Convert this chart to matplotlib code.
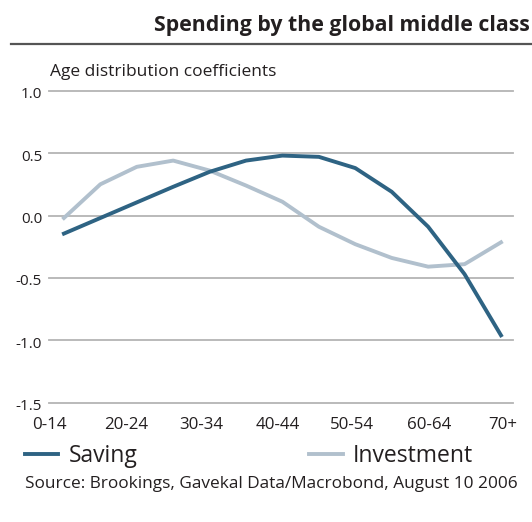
import matplotlib
matplotlib.use("Agg")
import matplotlib.pyplot as plt
from matplotlib.lines import Line2D
from matplotlib.transforms import ScaledTranslation

plt.rcParams['font.family'] = ['Open Sans', 'DejaVu Sans']

categories = ["0-14", "15-19", "20-24", "25-29", "30-34", "35-39", "40-44",
              "45-49", "50-54", "55-59", "60-64", "65-69", "70+"]
saving = [-0.145, -0.02, 0.105, 0.23, 0.35, 0.44, 0.48, 0.47, 0.38, 0.19, -0.09, -0.47, -0.96]
investment = [-0.02, 0.25, 0.39, 0.44, 0.36, 0.24, 0.11, -0.09, -0.23, -0.34, -0.41, -0.39, -0.215]
yticks = [1.0, 0.5, 0.0, -0.5, -1.0, -1.5]
ytick_labels = ["1.0", "0.5", "0.0", "-0.5", "-1.0", "-1.5"]

W, H = 532, 522
fig = plt.figure(figsize=(W / 100, H / 100), dpi=100)
ax = fig.add_axes([49 / W, 1 - 402.7 / H, (513 - 49) / W, (402.7 - 90.7) / H])

x = list(range(len(categories)))
c_sav = "#2e6383"
c_inv = "#b1c0cd"
txt = "#231f20"
ax.set_xlim(-0.41, 12.33)
ax.set_ylim(-1.5, 1.0)
for y in yticks:
    ax.axhline(y, color="#b4b4b4", lw=1.3, clip_on=False, zorder=1)
l_inv, = ax.plot(x, investment, color=c_inv, lw=2.8, zorder=3, solid_joinstyle="round")
l_sav, = ax.plot(x, saving, color=c_sav, lw=2.8, zorder=4, solid_joinstyle="round")

for s in ax.spines.values():
    s.set_visible(False)
ax.set_yticks(yticks)
ax.set_yticklabels(ytick_labels, fontsize=11, color=txt)
ax.tick_params(axis="y", length=0, pad=5)
for lab in ax.get_yticklabels():
    lab.set_transform(lab.get_transform() + ScaledTranslation(0, -2 / 100, fig.dpi_scale_trans))
ax.set_xticks(x[::2])
ax.set_xticklabels(categories[::2], fontsize=12.2, color=txt)
ax.tick_params(axis="x", length=0, pad=10)
offsets = [-14, -11, -8, -5, -3, 1, 2]
for lab, off in zip(ax.get_xticklabels(), offsets):
    lab.set_transform(lab.get_transform() + ScaledTranslation(off / 100, 0, fig.dpi_scale_trans))

fig.text(530 / W, 1 - 26 / H, "Spending by the global middle class", ha="right", va="center",
         fontsize=15.3, fontweight="bold", color=txt)
fig.add_artist(Line2D([11 / W, 1.0], [1 - 44 / H, 1 - 44 / H], color="#555555", lw=1.6))
fig.text(50 / W, 1 - 72 / H, "Age distribution coefficients", ha="left", va="center",
         fontsize=12.5, color=txt)

leg = fig.legend([l_sav, l_inv], ["Saving", "Investment"], loc="center left",
                 bbox_to_anchor=(25 / W, 1 - 456 / H), ncol=2, frameon=False,
                 borderpad=0, borderaxespad=0,
                 fontsize=16.5, handlelength=1.45, handletextpad=0.45, columnspacing=7.5)
for t in leg.get_texts():
    t.set_color(txt)
fig.text(25 / W, 1 - 484 / H, "Source: Brookings, Gavekal Data/Macrobond, August 10 2006",
         ha="left", va="center", fontsize=12.4, color=txt)

fig.savefig("out.png", dpi=100)
